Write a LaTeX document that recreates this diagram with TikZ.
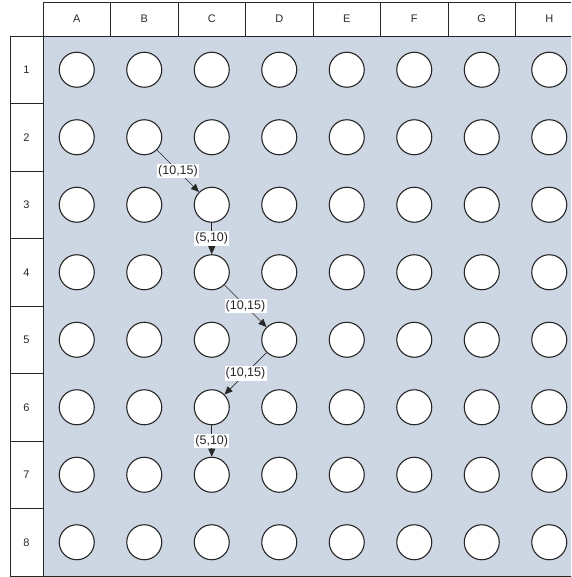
\documentclass[tikz,border=0pt]{standalone}
\usepackage{fontspec}
\setmainfont{Liberation Sans}
\usetikzlibrary{arrows.meta}
\definecolor{plate}{RGB}{205,215,228}
\definecolor{ink}{RGB}{40,40,40}
\tikzset{
  grid/.style={draw=black!85, line width=0.9pt},
  well/.style={circle, draw=black!85, line width=1.1pt, fill=white, minimum size=35pt, inner sep=0pt},
  hdr/.style={font=\fontsize{11}{12}\selectfont, text=ink},
  flow/.style={draw=ink, line width=0.7pt, -{Triangle[length=8pt,width=7pt]}},
  flowlabel/.style={fill=white, inner sep=1.2pt, font=\fontsize{12.5}{13}\selectfont, text=ink},
}
\begin{document}
\begin{tikzpicture}[x=1pt,y=-1pt]
\useasboundingbox (0,0) rectangle (571,577);
\clip (0,0) rectangle (571,577);
% plate area
\fill[plate] (43,36) rectangle (600,576);
% header row
\foreach \c/\l in {1/A,2/B,3/C,4/D,5/E,6/F,7/G,8/H}{
  \draw[grid] ({43+67.5*(\c-1)},2) rectangle ({43+67.5*\c},36);
  \node[hdr] (col-\l) at ({43+67.5*(\c-0.5)},19) {\l};
}
% row header column
\foreach \r in {1,...,8}{
  \draw[grid] (10,{36+67.5*(\r-1)}) rectangle (43,{36+67.5*\r});
  \node[hdr] (row-\r) at (26.5,{36+67.5*(\r-0.5)}) {\r};
}
% plate border
\draw[grid] (43,36) -- (43,576) -- (600,576);
% wells
\foreach \c/\l in {1/A,2/B,3/C,4/D,5/E,6/F,7/G,8/H}{
  \foreach \r in {1,...,8}{
    \node[well] (\l\r) at ({43+67.5*(\c-0.5)},{36+67.5*(\r-0.5)}) {};
  }
}
% flow
\draw[flow] (B2) -- node[flowlabel]{(10,15)} (C3);
\draw[flow] (C3) -- node[flowlabel]{(5,10)} (C4);
\draw[flow] (C4) -- node[flowlabel]{(10,15)} (D5);
\draw[flow] (D5) -- node[flowlabel]{(10,15)} (C6);
\draw[flow] (C6) -- node[flowlabel]{(5,10)} (C7);
\end{tikzpicture}
\end{document}
